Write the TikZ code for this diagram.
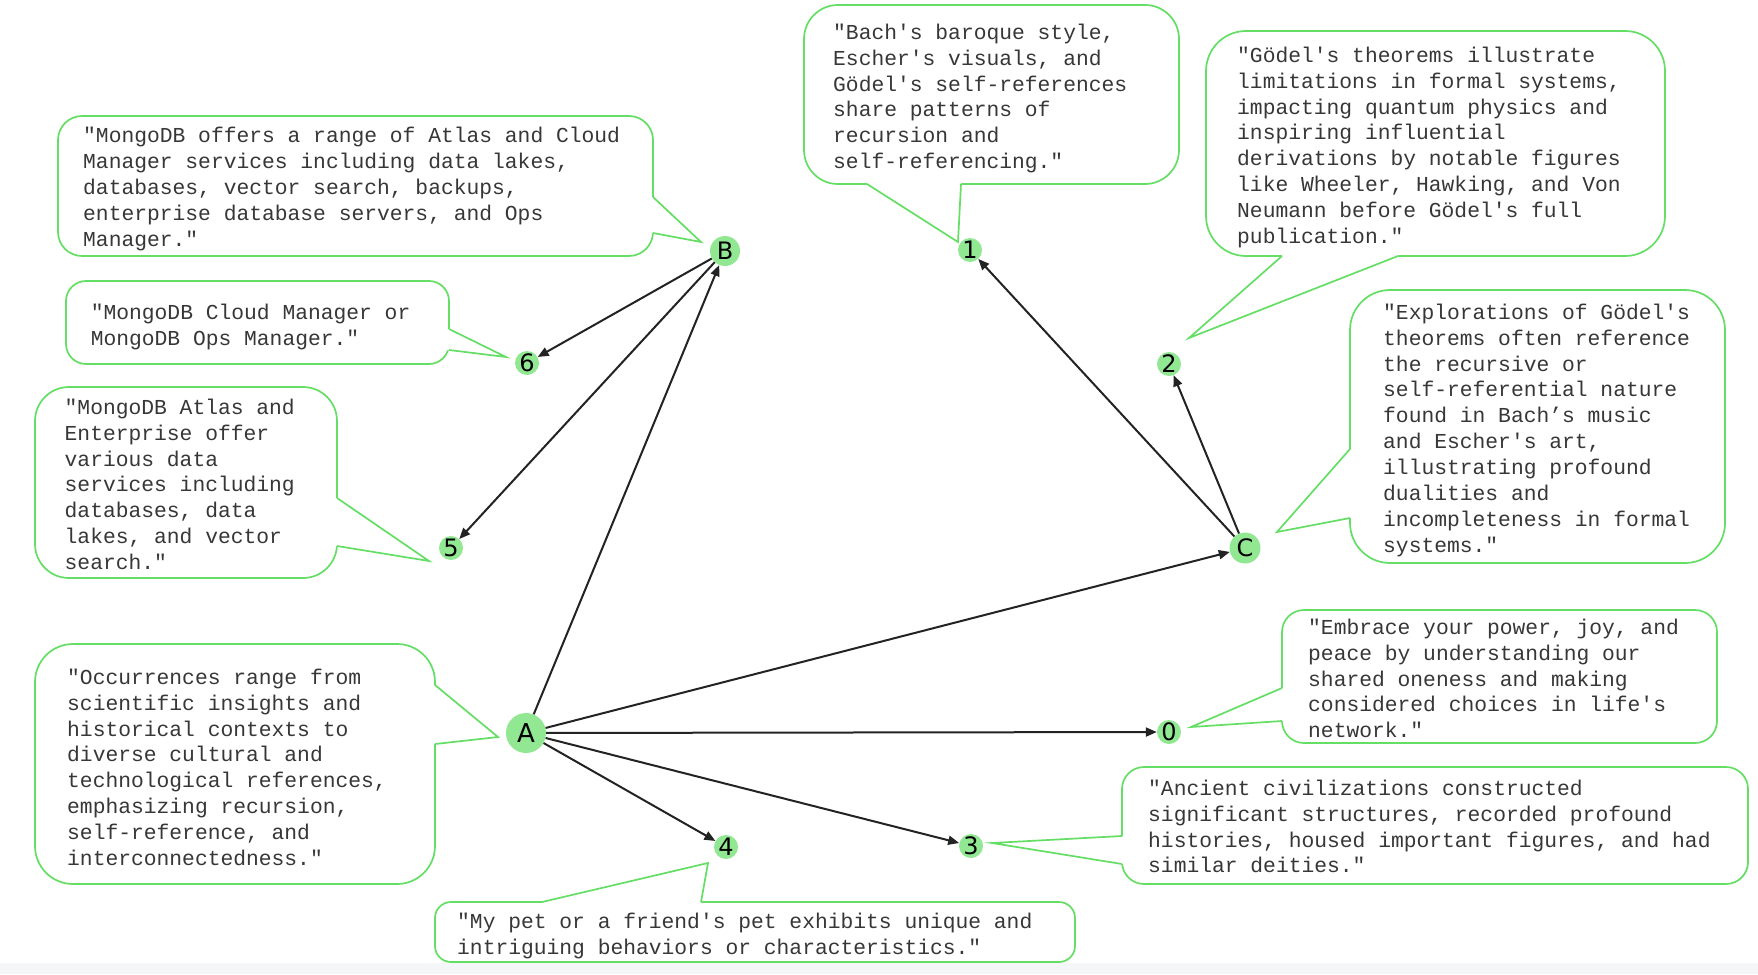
\documentclass[tikz,border=0pt]{standalone}
\usepackage{fontspec}
\setmonofont{Liberation Mono}
\newfontfamily\labfont{DejaVu Sans}
\usetikzlibrary{arrows.meta}
\definecolor{bubgreen}{RGB}{100,222,100}
\definecolor{nodegreen}{RGB}{146,232,146}
\definecolor{edgecol}{RGB}{35,35,35}
\definecolor{txtcol}{RGB}{55,55,55}
\definecolor{stripgray}{RGB}{245,246,248}
\newcommand{\fl}{\rule{0pt}{17pt}}
\begin{document}
\begin{tikzpicture}[x=1pt,y=-1pt,
  bub/.style={draw=bubgreen, line width=1.7pt, fill=white},
  bubline/.style={draw=bubgreen, line width=1.7pt, line join=miter},
  txtbox/.style={anchor=north west, inner sep=0pt, align=left, text=txtcol,
    font=\ttfamily\fontsize{21.3}{25.9}\selectfont},
  vert/.style={circle, fill=nodegreen, inner sep=0pt, text=black,
    font=\labfont\fontsize{24}{24}\selectfont},
  edge/.style={draw=edgecol, line width=2pt, -{Triangle[length=11pt,width=9pt]}}]
\useasboundingbox (0,0) rectangle (1758,974);
\fill[white] (0,0) rectangle (1758,974);
\fill[stripgray] (0,963) rectangle (1758,974);

% ---- bubbles ----
% B bubble
\draw[bub, rounded corners=24pt] (58,116) rectangle (653,256);
\fill[white] (649,197) -- (653,197) -- (701,242) -- (653,233) -- (649,233) -- cycle;
\draw[bubline] (653,197) -- (701,242) -- (653,233);
\node[txtbox] (tB) at (83,125.7) {\fl"MongoDB offers a range of Atlas and Cloud\\Manager services including data lakes,\\databases, vector search, backups,\\enterprise database servers, and Ops\\Manager."};

% 6 bubble
\draw[bub, rounded corners=20pt] (66,281) rectangle (449,364);
\fill[white] (445,329) -- (449,329) -- (506,357) -- (449,350) -- (445,350) -- cycle;
\draw[bubline] (449,329) -- (506,357) -- (449,350);
\node[txtbox] (t6) at (90.6,302) {\fl"MongoDB Cloud Manager or\\MongoDB Ops Manager."};

% 5 bubble
\draw[bub, rounded corners=34pt] (35,387) rectangle (337,578);
\fill[white] (333,498) -- (337,498) -- (429,561) -- (337,546) -- (333,546) -- cycle;
\draw[bubline] (337,498) -- (429,561) -- (337,546);
\node[txtbox] (t5) at (64.5,397) {\fl"MongoDB Atlas and\\Enterprise offer\\various data\\services including\\databases, data\\lakes, and vector\\search."};

% A bubble
\draw[bub, rounded corners=38pt] (35,644) rectangle (435,884);
\fill[white] (431,685) -- (435,685) -- (498,737) -- (435,744) -- (431,744) -- cycle;
\draw[bubline] (435,685) -- (498,737) -- (435,744);
\node[txtbox] (tA) at (67,667) {\fl"Occurrences range from\\scientific insights and\\historical contexts to\\diverse cultural and\\technological references,\\emphasizing recursion,\\self-reference, and\\interconnectedness."};

% 4 bubble
\draw[bub, rounded corners=16pt] (435,902) rectangle (1075,962);
\fill[white] (542,906) -- (542,902) -- (708,863) -- (701,902) -- (701,906) -- cycle;
\draw[bubline] (542,902) -- (708,863) -- (701,902);
\node[txtbox] (t4) at (457,911) {\fl"My pet or a friend's pet exhibits unique and\\intriguing behaviors or characteristics."};

% 1 bubble (Bach)
\draw[bub, rounded corners=34pt] (804,5) rectangle (1179,184);
\fill[white] (867,180) -- (867,184) -- (958,242) -- (961,184) -- (961,180) -- cycle;
\draw[bubline] (867,184) -- (958,242) -- (961,184);
\node[txtbox] (t1) at (833,22) {\fl"Bach's baroque style,\\Escher's visuals, and\\Gödel's self-references\\share patterns of\\recursion and\\self-referencing."};

% 2 bubble (Goedel)
\draw[bub, rounded corners=40pt] (1206,31) rectangle (1665,256);
\fill[white] (1282,252) -- (1282,256) -- (1189,338) -- (1398,256) -- (1398,252) -- cycle;
\draw[bubline] (1282,256) -- (1189,338) -- (1398,256);
\node[txtbox] (t2) at (1237,45) {\fl"Gödel's theorems illustrate\\limitations in formal systems,\\impacting quantum physics and\\inspiring influential\\derivations by notable figures\\like Wheeler, Hawking, and Von\\Neumann before Gödel's full\\publication."};

% C bubble (Explorations)
\draw[bub, rounded corners=40pt] (1350,290) rectangle (1725,563);
\fill[white] (1354,449) -- (1350,449) -- (1277,532) -- (1350,518) -- (1354,518) -- cycle;
\draw[bubline] (1350,449) -- (1277,532) -- (1350,518);
\node[txtbox] (tC) at (1383,302) {\fl"Explorations of Gödel's\\theorems often reference\\the recursive or\\self-referential nature\\found in Bach’s music\\and Escher's art,\\illustrating profound\\dualities and\\incompleteness in formal\\systems."};

% 0 bubble (Embrace)
\draw[bub, rounded corners=22pt] (1282,610) rectangle (1717,743);
\fill[white] (1286,688) -- (1282,688) -- (1191,727) -- (1282,721) -- (1286,721) -- cycle;
\draw[bubline] (1282,688) -- (1191,727) -- (1282,721);
\node[txtbox] (t0) at (1308,617) {\fl"Embrace your power, joy, and\\peace by understanding our\\shared oneness and making\\considered choices in life's\\network."};

% 3 bubble (Ancient)
\draw[bub, rounded corners=22pt] (1122,767) rectangle (1748,884);
\fill[white] (1126,836) -- (1122,836) -- (992,843) -- (1122,864) -- (1126,864) -- cycle;
\draw[bubline] (1122,836) -- (992,843) -- (1122,864);
\node[txtbox] (t3) at (1148,778) {\fl"Ancient civilizations constructed\\significant structures, recorded profound\\histories, housed important figures, and had\\similar deities."};

% ---- graph nodes ----
\node[vert, minimum size=40pt, font=\labfont\fontsize{26}{26}\selectfont] (A) at (526,733) {A};
\node[vert, minimum size=30pt] (B) at (725,251) {B};
\node[vert, minimum size=31pt] (C) at (1245,548) {C};
\node[vert, minimum size=24pt] (n0) at (1169,732) {0};
\node[vert, minimum size=24pt] (n1) at (970,250) {1};
\node[vert, minimum size=24pt] (n2) at (1169,364) {2};
\node[vert, minimum size=24pt] (n3) at (971,846) {3};
\node[vert, minimum size=24pt] (n4) at (726,847) {4};
\node[vert, minimum size=24pt] (n5) at (451,548) {5};
\node[vert, minimum size=24pt] (n6) at (527,363) {6};

% ---- edges ----
\draw[edge] (A) -- (B);
\draw[edge] (A) -- (C);
\draw[edge] (A) -- (n0);
\draw[edge] (A) -- (n3);
\draw[edge] (A) -- (n4);
\draw[edge] (B) -- (n6);
\draw[edge] (B) -- (n5);
\draw[edge] (C) -- (n1);
\draw[edge] (C) -- (n2);
\end{tikzpicture}
\end{document}
